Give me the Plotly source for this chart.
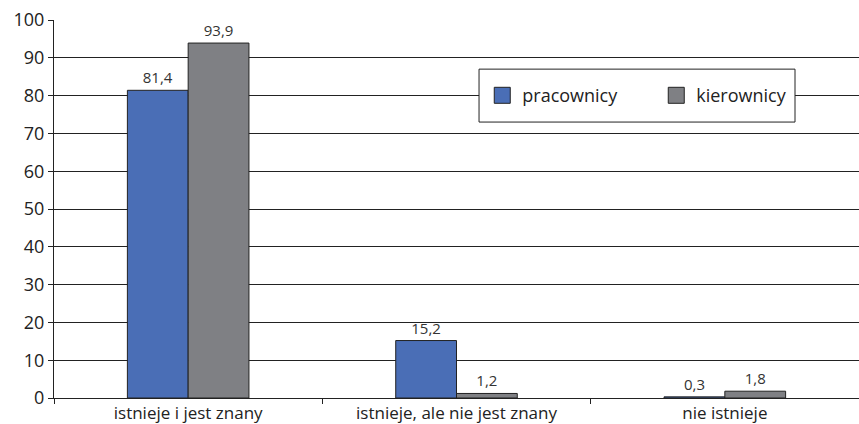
import plotly.graph_objects as go

categories = ["istnieje i jest znany", "istnieje, ale nie jest znany", "nie istnieje"]
pracownicy = [81.4, 15.2, 0.3]
kierownicy = [93.9, 1.2, 1.8]
labels_p = ["81,4", "15,2", "0,3"]
labels_k = ["93,9", "1,2", "1,8"]
y_ticks = [0, 10, 20, 30, 40, 50, 60, 70, 80, 90, 100]

FONT = "Open Sans"
BLUE = "#4A6EB6"
GRAY = "#7F8084"
DARK = "#222222"

fig = go.Figure()
for name, vals, labs, col in [("pracownicy", pracownicy, labels_p, BLUE),
                               ("kierownicy", kierownicy, labels_k, GRAY)]:
    fig.add_trace(go.Bar(
        name=name, x=categories, y=vals, text=labs,
        textposition="outside", cliponaxis=False, showlegend=False,
        textfont=dict(size=15, color="#333333", family=FONT),
        marker=dict(color=col, line=dict(color=DARK, width=1)),
    ))
# legend entries with larger square swatches
for name, col in [("pracownicy", BLUE), ("kierownicy", GRAY)]:
    fig.add_trace(go.Scatter(
        name=name, x=[None], y=[None], mode="markers",
        marker=dict(symbol="square", size=16, color=col, line=dict(color=DARK, width=1)),
    ))

fig.update_layout(
    width=859, height=424,
    margin=dict(l=54, r=0, t=20, b=26, autoexpand=False),
    paper_bgcolor="white", plot_bgcolor="white",
    barmode="group", bargap=0.547, bargroupgap=0,
    font=dict(family=FONT, size=17, color=DARK),
    showlegend=True,
    legend=dict(
        orientation="h", x=0.532, y=0.80, xanchor="left", yanchor="middle",
        borderwidth=0, bgcolor="rgba(0,0,0,0)",
        font=dict(size=18, family=FONT, color=DARK),
        entrywidth=129, entrywidthmode="pixels",
        itemsizing="trace",
    ),
    shapes=[dict(type="rect", xref="paper", yref="paper",
                 x0=0.528, x1=0.9205, y0=0.730, y1=0.870,
                 line=dict(color=DARK, width=1), fillcolor="white", layer="above")],
    xaxis=dict(
        showline=True, linecolor=DARK, linewidth=1,
        ticks="outside", tickson="boundaries", ticklen=5, tickcolor=DARK,
        tickfont=dict(size=17, family=FONT, color=DARK),
        showgrid=False,
    ),
    yaxis=dict(
        range=[0, 100], tickvals=y_ticks,
        showline=True, linecolor=DARK, linewidth=1,
        ticks="outside", ticklen=5, tickcolor=DARK,
        showgrid=True, gridcolor=DARK, gridwidth=1,
        tickfont=dict(size=18, family=FONT, color=DARK),
        zeroline=False,
    ),
)

fig.write_html("out.html")
